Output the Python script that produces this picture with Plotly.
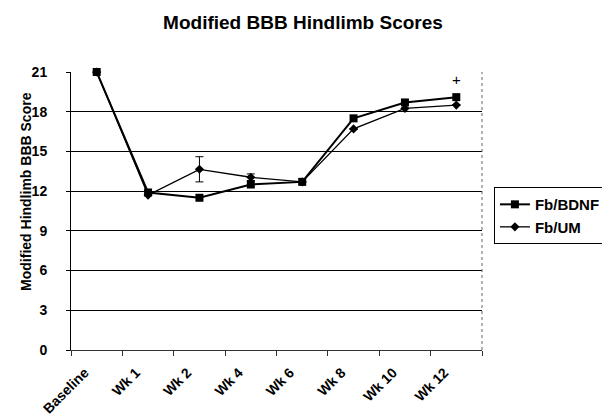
import plotly.graph_objects as go

categories = ["Baseline", "Wk 1", "Wk 2", "Wk 4", "Wk 6", "Wk 8", "Wk 10", "Wk 12"]
bdnf = [21.0, 11.9, 11.5, 12.5, 12.7, 17.5, 18.7, 19.1]
um = [21.0, 11.7, 13.65, 13.05, 12.7, 16.7, 18.25, 18.5]
um_err = [0, 0, 0.95, 0.25, 0, 0, 0, 0]
y_ticks = [0, 3, 6, 9, 12, 15, 18, 21]

font = "Liberation Sans, Arial, sans-serif"

fig = go.Figure()
fig.add_trace(go.Scatter(
    x=categories, y=bdnf, name="Fb/BDNF", mode="lines+markers",
    line=dict(color="black", width=2),
    marker=dict(symbol="square", size=8, color="black"),
    cliponaxis=False,
))
fig.add_trace(go.Scatter(
    x=categories, y=um, name="Fb/UM", mode="lines+markers",
    line=dict(color="black", width=1.3),
    marker=dict(symbol="diamond", size=7, color="black"),
    error_y=dict(type="data", array=um_err, visible=True, color="black",
                 thickness=1, width=4),
    cliponaxis=False,
))

fig.add_annotation(x="Wk 12", y=20.45, text="+", showarrow=False,
                   font=dict(family=font, size=15, color="black"))

fig.add_annotation(xref="paper", yref="paper", x=-0.111, y=0.57,
                   text="<b>Modified Hindlimb BBB Score</b>", textangle=-90,
                   showarrow=False, xanchor="center", yanchor="middle",
                   font=dict(family=font, size=14, color="black"))

fig.add_shape(type="line", xref="paper", yref="paper", x0=1, x1=1, y0=0, y1=1,
              line=dict(color="#666666", width=1, dash="dot"))

fig.update_layout(
    width=610, height=420,
    margin=dict(l=63, r=132, t=64, b=78),
    paper_bgcolor="white", plot_bgcolor="white",
    title=dict(text="<b>Modified BBB Hindlimb Scores</b>", x=0.4836, xanchor="center",
               y=0.9667, yanchor="middle",
               font=dict(family=font, size=19, color="black")),
    font=dict(family=font, color="black"),
    showlegend=True,
    legend=dict(x=1.029, y=0.586, xanchor="left", yanchor="top",
                bordercolor="black", borderwidth=1, bgcolor="white",
                font=dict(family=font, size=15, color="black", weight="bold"),
                itemwidth=30, tracegroupgap=0),
    xaxis=dict(
        type="category", tickson="boundaries", ticks="outside", ticklen=5,
        tickcolor="#333333", showline=True, linecolor="#333333", linewidth=1,
        showgrid=False, tickangle=-45, automargin=False,
        ticklabelshift=-12, ticklabelstandoff=8,
        tickfont=dict(family=font, size=14, color="black", weight="bold"),
        range=[-0.5, 7.5],
    ),
    yaxis=dict(
        range=[0, 21], tickvals=y_ticks, ticks="outside", ticklen=4,
        tickcolor="black", showline=True, linecolor="black", linewidth=1,
        showgrid=True, gridcolor="black", gridwidth=1, zeroline=False,
        automargin=False, ticklabelstandoff=16,
        tickfont=dict(family=font, size=14, color="black", weight="bold"),
    ),
)

fig.write_html("out.html")
